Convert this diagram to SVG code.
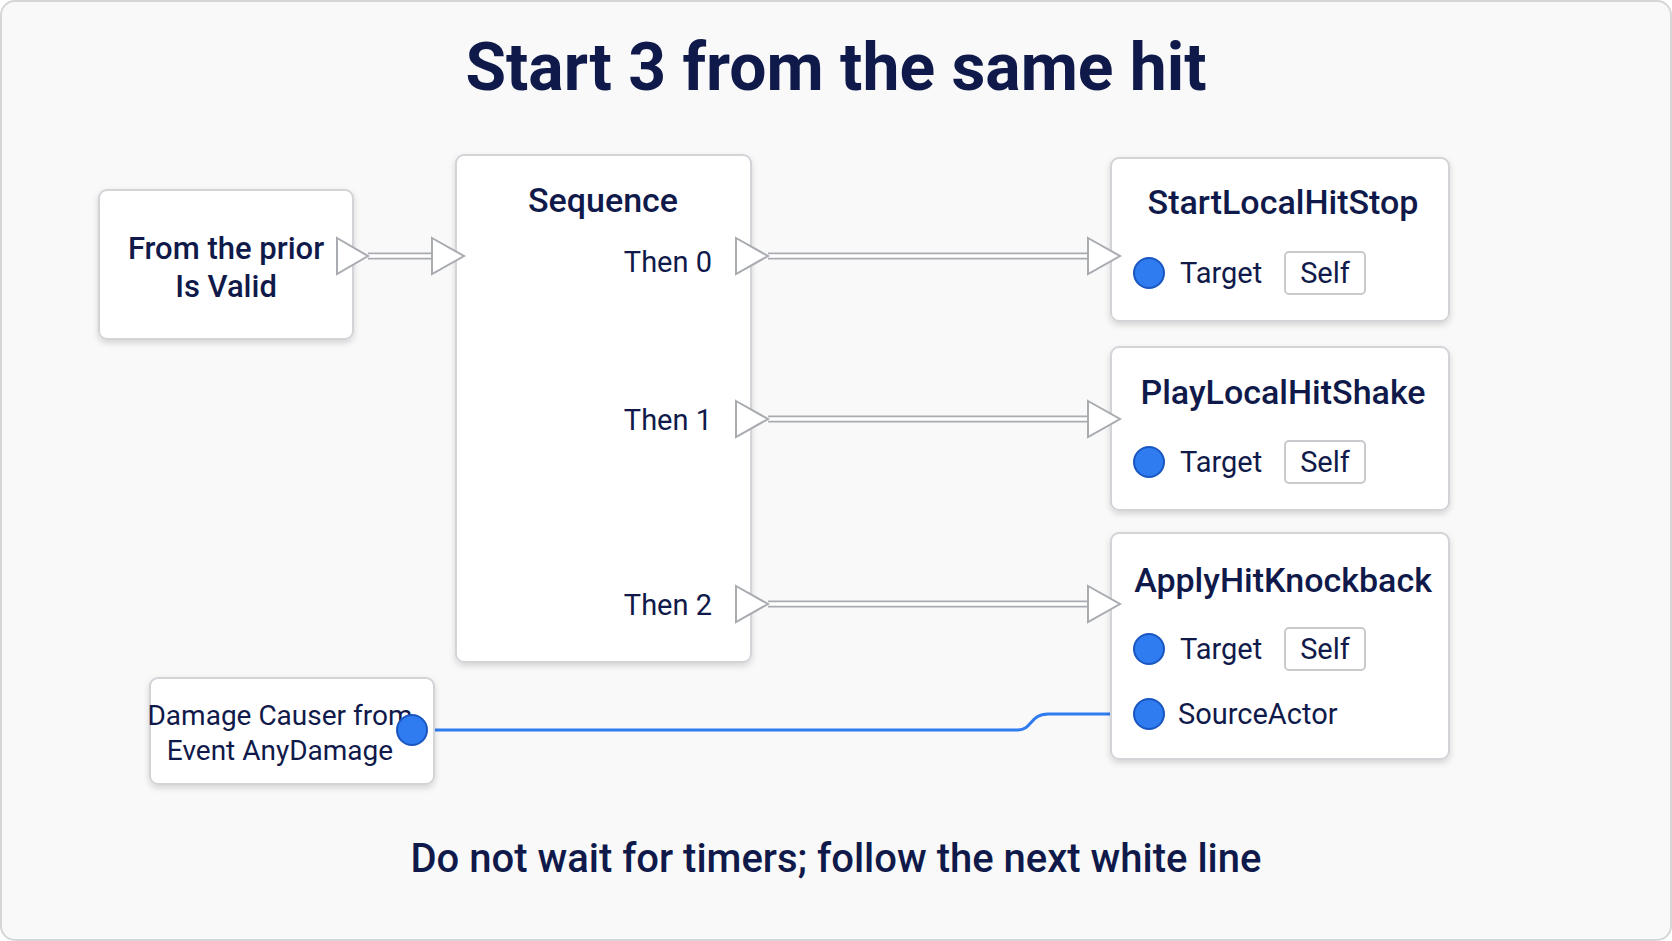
<svg xmlns="http://www.w3.org/2000/svg" width="1672" height="941" viewBox="0 0 1672 941">
<defs>
<filter id="sh" x="-10%" y="-10%" width="120%" height="130%"><feDropShadow dx="0" dy="3" stdDeviation="3" flood-color="#000" flood-opacity="0.15"/></filter>
</defs>
<style>
text{font-family:Roboto,"Liberation Sans",sans-serif;fill:#101a4a}
.node{fill:#fff;stroke:#d2d4d8;stroke-width:2;filter:url(#sh)}
.t{font-size:34px;font-weight:500;text-anchor:middle}
.l{font-size:29px}
.pin{fill:#fff;stroke:#a8abb0;stroke-width:2}
.bp{fill:#2f7bf0;stroke:#1a56c0;stroke-width:2}
.self{fill:#fff;stroke:#c8cacd;stroke-width:2}
.wo{fill:none;stroke:#a8abb0;stroke-width:7}
.wi{fill:none;stroke:#fff;stroke-width:3.5}
</style>
<rect x="1" y="1" width="1670" height="939" rx="14" fill="#f9f9fa" stroke="#d6d6d8" stroke-width="2"/>
<text x="836" y="90" text-anchor="middle" style="font-size:66px;font-weight:700">Start 3 from the same hit</text>
<text x="836" y="872" text-anchor="middle" style="font-size:40px;font-weight:500">Do not wait for timers; follow the next white line</text>

<g id="connectors">
<path class="wo" d="M368 256H432M768 256H1088M768 419H1088M768 604H1088"/>
<path class="wi" d="M368 256H432M768 256H1088M768 419H1088M768 604H1088"/>
<path d="M412 730H1018C1032 730 1030 714 1048 714H1149" fill="none" stroke="#2f7bf0" stroke-width="3"/>
</g>

<g id="prior">
<rect class="node" x="99" y="190" width="254" height="149" rx="8"/>
<text class="t" x="226" y="259" style="font-size:31px">From the prior</text>
<text class="t" x="226" y="297" style="font-size:31px">Is Valid</text>
<path class="pin" d="M337 238L368 256L337 274Z"/>
</g>

<g id="sequence">
<rect class="node" x="456" y="155" width="295" height="507" rx="8"/>
<text class="t" x="603" y="212">Sequence</text>
<path class="pin" d="M432 238L464 256L432 274Z"/>
<text class="l" x="712" y="272" text-anchor="end">Then 0</text>
<text class="l" x="712" y="430" text-anchor="end">Then 1</text>
<text class="l" x="712" y="615" text-anchor="end">Then 2</text>
<path class="pin" d="M736 238L768 256L736 274Z"/>
<path class="pin" d="M736 401L768 419L736 437Z"/>
<path class="pin" d="M736 586L768 604L736 622Z"/>
</g>

<g id="startstop">
<rect class="node" x="1111" y="158" width="338" height="163" rx="8"/>
<text class="t" x="1283" y="214">StartLocalHitStop</text>
<path class="pin" d="M1088 238L1120 256L1088 274Z"/>
<circle class="bp" cx="1149" cy="273" r="15"/>
<text class="l" x="1180" y="283">Target</text>
<rect class="self" x="1285" y="252" width="80" height="42" rx="4"/>
<text class="l" x="1325" y="283" text-anchor="middle">Self</text>
</g>

<g id="shake">
<rect class="node" x="1111" y="347" width="338" height="163" rx="8"/>
<text class="t" x="1283" y="404">PlayLocalHitShake</text>
<path class="pin" d="M1088 401L1120 419L1088 437Z"/>
<circle class="bp" cx="1149" cy="462" r="15"/>
<text class="l" x="1180" y="472">Target</text>
<rect class="self" x="1285" y="441" width="80" height="42" rx="4"/>
<text class="l" x="1325" y="472" text-anchor="middle">Self</text>
</g>

<g id="knockback">
<rect class="node" x="1111" y="533" width="338" height="226" rx="8"/>
<text class="t" x="1283" y="592">ApplyHitKnockback</text>
<path class="pin" d="M1088 586L1120 604L1088 622Z"/>
<circle class="bp" cx="1149" cy="649" r="15"/>
<text class="l" x="1180" y="659">Target</text>
<rect class="self" x="1285" y="628" width="80" height="42" rx="4"/>
<text class="l" x="1325" y="659" text-anchor="middle">Self</text>
<circle class="bp" cx="1149" cy="714" r="15"/>
<text class="l" x="1178" y="724">SourceActor</text>
</g>

<g id="damage">
<rect class="node" x="150" y="678" width="284" height="106" rx="8"/>
<text x="280" y="725" text-anchor="middle" style="font-size:28px">Damage Causer from</text>
<text x="280" y="760" text-anchor="middle" style="font-size:28px">Event AnyDamage</text>
<circle class="bp" cx="412" cy="730" r="15"/>
</g>
</svg>
